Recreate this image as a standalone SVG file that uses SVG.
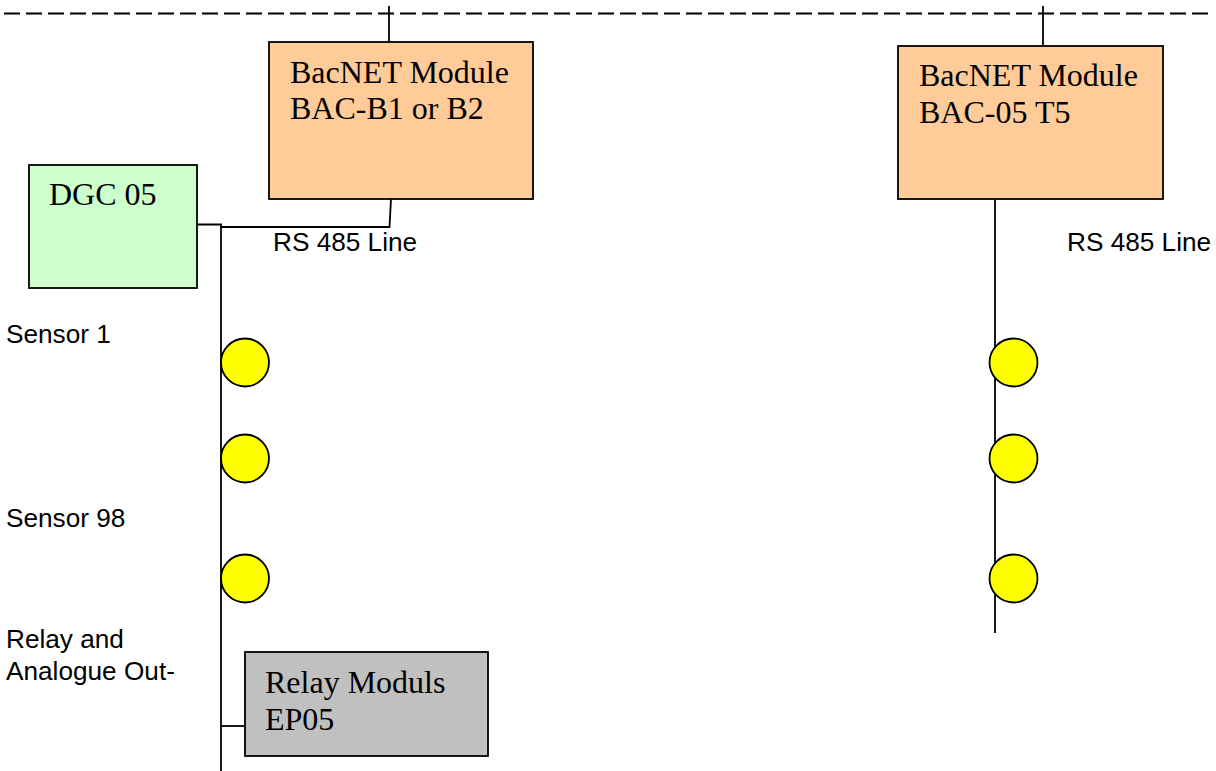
<svg xmlns="http://www.w3.org/2000/svg" width="1216" height="771" viewBox="0 0 1216 771">
<style>
.box{stroke:#000;stroke-width:1.8}
.serif{font-family:"Liberation Serif","Times New Roman",serif;font-size:32px;fill:#000}
.sans{font-family:"Liberation Sans",Arial,sans-serif;font-size:26.2px;fill:#000}
.ln{stroke:#000;stroke-width:1.8;fill:none}
.sensor{fill:#FFFF00;stroke:#000;stroke-width:1.8}
</style>
<rect width="1216" height="771" fill="#fff"/>
<g id="connectors">
<line class="ln" x1="4" y1="13.5" x2="1212" y2="13.5" stroke-dasharray="16,6"/>
<line class="ln" x1="389" y1="6" x2="389" y2="54"/>
<line class="ln" x1="1043" y1="6" x2="1043" y2="53"/>
<polyline class="ln" points="391,199 389.5,227 221,227"/>
<polyline class="ln" points="197,224.5 221,224.5 221,771"/>
<line class="ln" x1="221" y1="726" x2="245" y2="726"/>
<line class="ln" x1="995" y1="199" x2="995" y2="633"/>
</g>
<g id="bacnet1">
<rect class="box" x="269" y="42" width="264" height="157" fill="#FFCC99"/>
<text class="serif" x="290" y="83">BacNET Module</text>
<text class="serif" x="290" y="119">BAC-B1 or B2</text>
</g>
<g id="bacnet2">
<rect class="box" x="898" y="46" width="265" height="153" fill="#FFCC99"/>
<text class="serif" x="919" y="86">BacNET Module</text>
<text class="serif" x="919" y="123">BAC-05 T5</text>
</g>
<g id="dgc05">
<rect class="box" x="29" y="165" width="168" height="123" fill="#CCFFCC"/>
<text class="serif" x="49" y="205">DGC 05</text>
</g>
<g id="relay">
<rect class="box" x="245" y="652" width="243" height="104" fill="#C0C0C0"/>
<text class="serif" x="265" y="693">Relay Moduls</text>
<text class="serif" x="265" y="730">EP05</text>
</g>
<g id="sensors-left">
<circle class="sensor" cx="245" cy="362.5" r="24"/>
<circle class="sensor" cx="245" cy="458.5" r="24"/>
<circle class="sensor" cx="245" cy="578.5" r="24"/>
</g>
<g id="sensors-right">
<circle class="sensor" cx="1013.5" cy="362.5" r="24"/>
<circle class="sensor" cx="1013.5" cy="458.5" r="24"/>
<circle class="sensor" cx="1013.5" cy="578.5" r="24"/>
</g>
<g id="labels">
<text class="sans" x="273" y="251">RS 485 Line</text>
<text class="sans" x="1067" y="251">RS 485 Line</text>
<text class="sans" x="6" y="343">Sensor 1</text>
<text class="sans" x="6" y="527">Sensor 98</text>
<text class="sans" x="6" y="648">Relay and</text>
<text class="sans" x="6" y="680">Analogue Out-</text>
</g>
</svg>
